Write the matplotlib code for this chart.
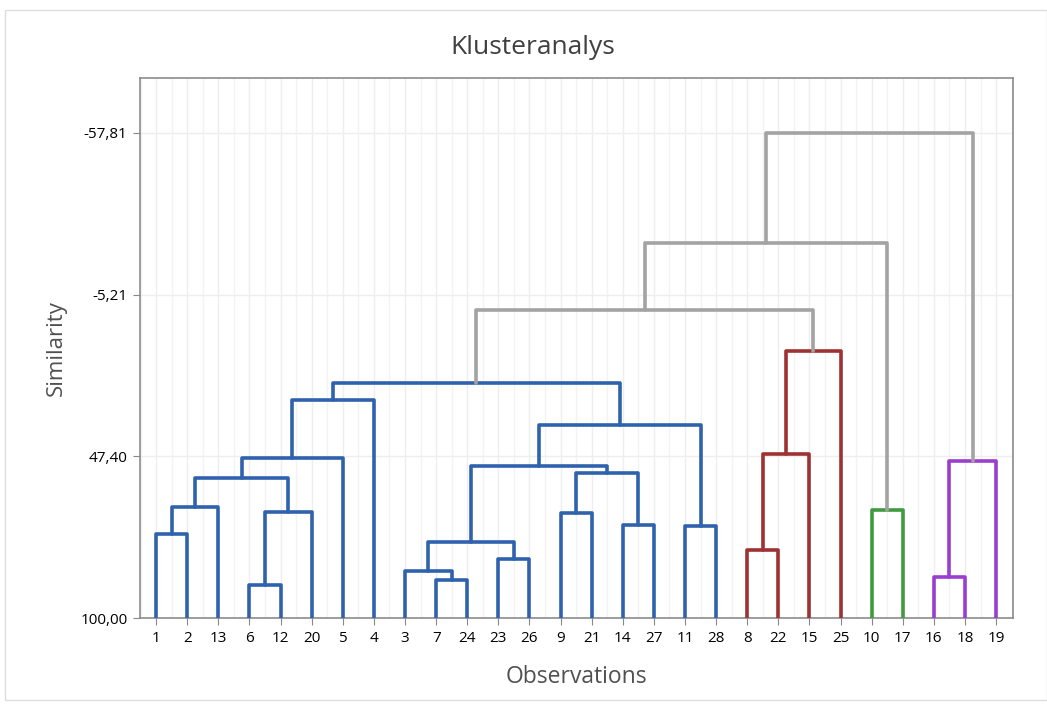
import matplotlib
matplotlib.use('Agg')
import matplotlib.pyplot as plt
from matplotlib.patches import Rectangle

plt.rcParams['font.family'] = ['Open Sans', 'DejaVu Sans']

# leaf order along the x axis
leaf_order = [1, 2, 13, 6, 12, 20, 5, 4, 3, 7, 24, 23, 26, 9, 21, 14, 27, 11, 28,
              8, 22, 15, 25, 10, 17, 16, 18, 19]

# merges: (left node, right node, similarity); merged nodes are named m0, m1, ...
merges = [
    (1, 2, 72.7),        # m0
    ('m0', 13, 63.9),    # m1
    (6, 12, 89.3),       # m2
    ('m2', 20, 65.5),    # m3
    ('m1', 'm3', 54.4),  # m4
    ('m4', 5, 47.9),     # m5
    ('m5', 4, 29.1),     # m6
    (7, 24, 87.6),       # m7
    (3, 'm7', 84.6),     # m8
    (23, 26, 80.8),      # m9
    ('m8', 'm9', 75.2),  # m10
    (9, 21, 65.9),       # m11
    (14, 27, 69.7),      # m12
    ('m11', 'm12', 52.9),  # m13
    ('m10', 'm13', 50.5),  # m14
    (11, 28, 70.1),      # m15
    ('m14', 'm15', 37.2),  # m16
    ('m6', 'm16', 23.5),   # m17
    (8, 22, 77.9),       # m18
    ('m18', 15, 46.8),   # m19
    ('m19', 25, 13.0),   # m20
    (10, 17, 64.7),      # m21
    (16, 18, 86.6),      # m22
    ('m22', 19, 49.0),   # m23
    ('m17', 'm20', -0.2),   # m24
    ('m24', 'm21', -22.1),  # m25
    ('m25', 'm23', -57.81), # m26
]

# final cluster of each merge (None = link between clusters)
merge_cluster = [1] * 18 + [2] * 3 + [3] + [4] * 2 + [None] * 3

ytick_vals = [100.0, 47.40, -5.21, -57.81]
ytick_labels = ['100,00', '47,40', '-5,21', '-57,81']

cluster_colors = {1: '#2F62AE', 2: '#9E3232', 3: '#3F9B3F', 4: '#9A3ED0', None: '#A3A3A3'}

fig = plt.figure(figsize=(10.47, 7.06), dpi=100)
fig.patches.append(Rectangle((0.005, 0.008), 0.995, 0.978, transform=fig.transFigure,
                             fill=False, edgecolor='#DDDDDD', linewidth=1))
ax = fig.add_axes([0.1337, 0.1246, 0.834, 0.765])

pos = {leaf: i for i, leaf in enumerate(leaf_order)}
height = {leaf: 100.0 for leaf in leaf_order}
for k, (a, b, s) in enumerate(merges):
    col = cluster_colors[merge_cluster[k]]
    xa, xb = pos[a], pos[b]
    ax.plot([xa, xa, xb, xb], [height[a], s, s, height[b]], color=col,
            linewidth=2.6, solid_joinstyle='round', solid_capstyle='round', zorder=3)
    name = 'm%d' % k
    pos[name] = (xa + xb) / 2
    height[name] = s

ax.set_xlim(-0.52, 27.55)
ax.set_ylim(100, -75.7)
ax.set_xticks(range(len(leaf_order)))
ax.set_xticklabels([str(l) for l in leaf_order], fontsize=11)
ax.set_xticks([i + 0.5 for i in range(-1, len(leaf_order))], minor=True)
ax.set_yticks(ytick_vals)
ax.set_yticklabels(ytick_labels, fontsize=11)
ax.tick_params(axis='both', which='major', length=5, color='#888888', pad=4)
ax.tick_params(axis='x', which='minor', length=0)
ax.grid(True, which='major', color='#EEEEEE', linewidth=1)
ax.grid(True, which='minor', axis='x', color='#F3F3F3', linewidth=1)
ax.set_axisbelow(True)
for sp in ax.spines.values():
    sp.set_color('#8C8C8C')
    sp.set_linewidth(1.2)

fig.text(0.509, 0.933, 'Klusteranalys', fontsize=19, color='#404040', ha='center', va='center')
ax.set_xlabel('Observations', fontsize=16.5, color='#505050', labelpad=14)
ax.set_ylabel('Similarity', fontsize=16, color='#505050', labelpad=10)

fig.savefig('out.png', dpi=100)
